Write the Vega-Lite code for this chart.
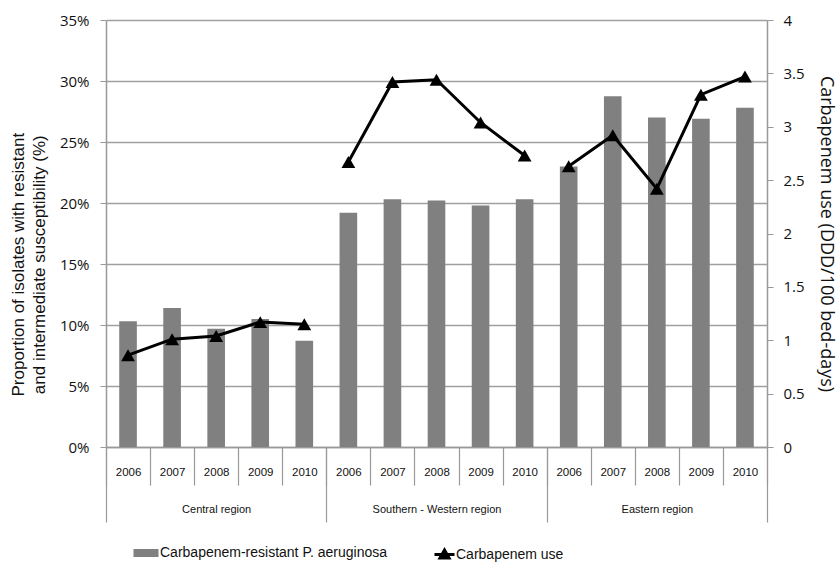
{
  "$schema": "https://vega.github.io/schema/vega-lite/v6.json",
  "width": 661,
  "height": 427,
  "autosize": {"type": "none"},
  "padding": {"left": 106, "top": 20, "right": 73, "bottom": 116},
  "background": "white",
  "data": {
    "values": [
      {"key": "Central region|2006", "region": "Central region", "pct": 0.103, "use": 0.86},
      {"key": "Central region|2007", "region": "Central region", "pct": 0.114, "use": 1.01},
      {"key": "Central region|2008", "region": "Central region", "pct": 0.097, "use": 1.04},
      {"key": "Central region|2009", "region": "Central region", "pct": 0.105, "use": 1.17},
      {"key": "Central region|2010", "region": "Central region", "pct": 0.087, "use": 1.15},
      {"key": "Southern - Western region|2006", "region": "Southern - Western region", "pct": 0.192, "use": 2.67},
      {"key": "Southern - Western region|2007", "region": "Southern - Western region", "pct": 0.203, "use": 3.42},
      {"key": "Southern - Western region|2008", "region": "Southern - Western region", "pct": 0.202, "use": 3.44},
      {"key": "Southern - Western region|2009", "region": "Southern - Western region", "pct": 0.198, "use": 3.04},
      {"key": "Southern - Western region|2010", "region": "Southern - Western region", "pct": 0.203, "use": 2.73},
      {"key": "Eastern region|2006", "region": "Eastern region", "pct": 0.230, "use": 2.63},
      {"key": "Eastern region|2007", "region": "Eastern region", "pct": 0.2875, "use": 2.92},
      {"key": "Eastern region|2008", "region": "Eastern region", "pct": 0.270, "use": 2.42},
      {"key": "Eastern region|2009", "region": "Eastern region", "pct": 0.269, "use": 3.30},
      {"key": "Eastern region|2010", "region": "Eastern region", "pct": 0.278, "use": 3.47}
    ]
  },
  "layer": [
    {
      "mark": {"type": "bar", "width": {"band": 0.4}, "color": "#808080"},
      "encoding": {
        "x": {
          "field": "key",
          "type": "nominal",
          "sort": null,
          "scale": {"paddingInner": 0, "paddingOuter": 0},
          "axis": {
            "orient": "bottom",
            "title": null,
            "labelAngle": 0,
            "tickBand": "extent",
            "tickSize": 38,
            "tickColor": "#999999",
            "tickWidth": 1.2,
            "domainColor": "#999999",
            "domainWidth": 1.5,
            "labelPadding": -19,
            "labelFont": "Liberation Sans",
            "labelFontSize": 11.5,
            "labelColor": "#111111",
            "labelOverlap": false,
            "labelBound": false,
            "labelFlush": false,
            "labelExpr": "split(datum.value,'|')[1]"
          }
        },
        "y": {
          "field": "pct",
          "type": "quantitative",
          "scale": {"domain": [0, 0.35]},
          "axis": {
            "title": ["Proportion of isolates with resistant\u00a0\u00a0\u00a0\u00a0\u00a0\u00a0\u00a0\u00a0\u00a0\u00a0\u00a0\u00a0\u00a0\u200b", "and intermediate susceptibility (%)\u00a0\u00a0\u00a0\u00a0\u00a0\u00a0\u00a0\u00a0\u00a0\u00a0\u00a0\u00a0\u00a0\u200b"],
            "titleFont": "Liberation Sans",
            "titleFontSize": 17,
            "titleFontWeight": "normal",
            "titleColor": "#111111",
            "titleLineHeight": 21,
            "titlePadding": 11,
            "values": [0, 0.05, 0.1, 0.15, 0.2, 0.25, 0.3, 0.35],
            "format": ".0%",
            "labelFont": "Open Sans",
            "labelFontSize": 15,
            "labelColor": "#111111",
            "labelPadding": 11,
            "tickSize": 6,
            "tickColor": "#999999",
            "domainColor": "#999999",
            "domainWidth": 1.5,
            "grid": true,
            "gridColor": "#a0a0a0",
            "gridWidth": 1.5
          }
        },
        "color": {
          "datum": "Carbapenem-resistant P. aeruginosa",
          "scale": {"range": ["#808080"]},
          "legend": {
            "title": null,
            "orient": "none",
            "legendX": 30,
            "legendY": 523,
            "symbolType": "M-1.25,-0.4H1.25V0.4H-1.25Z",
            "symbolSize": 400,
            "symbolStrokeWidth": 0,
            "labelFont": "Liberation Sans",
            "labelFontSize": 14,
            "labelLimit": 0,
            "labelColor": "#111111"
          }
        }
      }
    },
    {
      "mark": {"type": "line", "strokeWidth": 3, "color": "black"},
      "encoding": {
        "x": {
          "field": "key",
          "type": "nominal",
          "sort": null,
          "axis": {
            "orient": "bottom",
            "title": null,
            "labelAngle": 0,
            "tickBand": "extent",
            "tickSize": 75,
            "domain": false,
            "tickColor": "#999999",
            "tickWidth": 1.2,
            "tickOpacity": {"condition": {"test": "split(datum.value,'|')[1] == '2010'", "value": 1}, "value": 0},
            "labelPadding": -19,
            "labelFont": "Liberation Sans",
            "labelFontSize": 11,
            "labelColor": "#111111",
            "labelOverlap": false,
            "labelBound": false,
            "labelFlush": false,
            "labelExpr": "split(datum.value,'|')[1] == '2008' ? split(datum.value,'|')[0] : ''"
          }
        },
        "y": {
          "field": "use",
          "type": "quantitative",
          "scale": {"domain": [0, 4]},
          "axis": {
            "orient": "right",
            "title": "Carbapenem use (DDD/100 bed-days)",
            "titleFont": "Open Sans",
            "titleFontSize": 18,
            "titleFontWeight": "normal",
            "titleColor": "#111111",
            "titlePadding": 12,
            "values": [0, 0.5, 1, 1.5, 2, 2.5, 3, 3.5, 4],
            "format": ".1~f",
            "labelFont": "Open Sans",
            "labelFontSize": 15,
            "labelColor": "#111111",
            "labelPadding": 10,
            "tickSize": 6,
            "tickColor": "#999999",
            "domainColor": "#999999",
            "domainWidth": 1.5,
            "grid": false
          }
        },
        "detail": {"field": "region"},
        "color": {
          "datum": "Carbapenem use",
          "scale": {"range": ["black"]},
          "legend": {
            "title": null,
            "orient": "none",
            "legendX": 327,
            "legendY": 523,
            "symbolType": "M-1,0H1M0,-0.45L0.45,0.35H-0.45Z",
            "symbolSize": 400,
            "symbolStrokeWidth": 3,
            "symbolFillColor": "black",
            "symbolStrokeColor": "black",
            "labelOffset": 0,
            "labelFont": "Liberation Sans",
            "labelFontSize": 14,
            "labelColor": "#111111"
          }
        }
      }
    },
    {
      "mark": {"type": "point", "filled": true, "shape": "triangle-up", "size": 190, "color": "black", "opacity": 1},
      "encoding": {
        "x": {
          "field": "key",
          "type": "nominal",
          "sort": null,
          "axis": {
            "orient": "bottom",
            "title": null,
            "labels": false,
            "domain": false,
            "tickSize": 75,
            "tickOffset": -22.03,
            "tickColor": "#999999",
            "tickWidth": 1.2,
            "tickOpacity": {"condition": {"test": "datum.value == 'Central region|2006'", "value": 1}, "value": 0}
          }
        },
        "y": {
          "field": "use",
          "type": "quantitative",
          "scale": {"domain": [0, 4]},
          "axis": null
        }
      }
    }
  ],
  "resolve": {"scale": {"y": "independent", "color": "independent"}, "axis": {"x": "independent"}},
  "config": {"view": {"stroke": null}}
}
